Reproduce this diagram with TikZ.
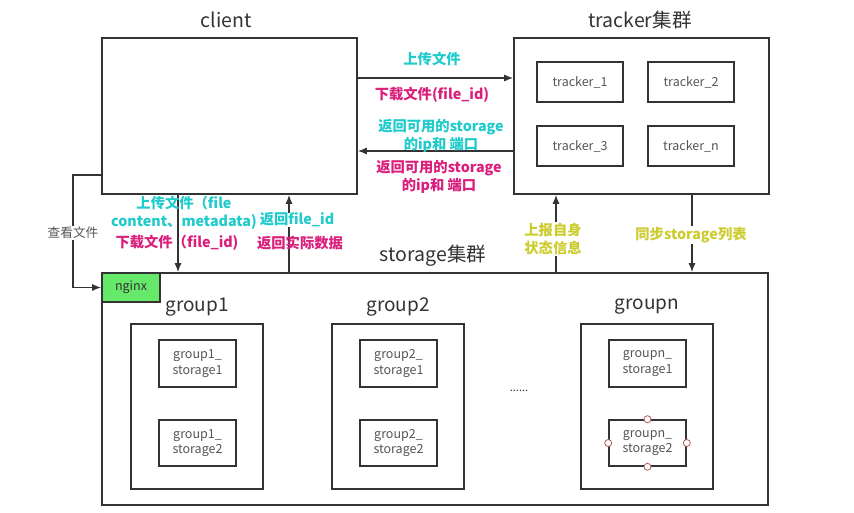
\documentclass[tikz,border=0pt]{standalone}
\usepackage{fontspec}
\setmainfont{Noto Sans CJK SC}
\usetikzlibrary{arrows.meta}
\definecolor{bord}{HTML}{333333}
\definecolor{txtg}{HTML}{555555}
\definecolor{cy}{HTML}{1FCBCB}
\definecolor{mg}{HTML}{DB1F7C}
\definecolor{yl}{HTML}{CCCC2E}
\definecolor{ngreen}{HTML}{66E86B}
\definecolor{ptc}{HTML}{B05A5A}
\begin{document}
\begin{tikzpicture}[x=1pt,y=-1pt,
  box/.style={draw=bord,line width=1.6pt,fill=white,inner sep=0pt},
  inbox/.style={draw=bord,line width=1.6pt,fill=white,inner sep=0pt,text=txtg,align=center,
     font=\fontsize{12.5}{15.5}\selectfont},
  ttl/.style={text=bord,inner sep=0pt,font=\fontsize{19.5}{22}\selectfont},
  gttl/.style={text=bord,inner sep=0pt,font=\fontsize{19}{22}\selectfont},
  arr/.style={draw=bord,line width=1.3pt,-{Latex[length=9pt,width=7pt]}},
  lab/.style={inner sep=1pt,align=center,font=\bfseries\fontsize{14.3}{18}\selectfont},
  wlab/.style={lab,fill=white},
  pt/.style={circle,draw=ptc,fill=white,line width=0.8pt,minimum size=7pt,inner sep=0pt}]
\useasboundingbox (0,0) rectangle (854,513);
\fill[white] (0,0) rectangle (854,513);

% client
\node[box,minimum width=255pt,minimum height=156pt] (client) at (229.5,116) {};
\node[ttl] (clientt) at (226,20) {client};

% tracker
\node[box,minimum width=255pt,minimum height=156pt] (tracker) at (641.5,116) {};
\node[ttl] (trackert) at (640,20) {tracker集群};
\node[inbox,minimum width=86pt,minimum height=40pt] (t1) at (580,82) {tracker\_1};
\node[inbox,minimum width=86pt,minimum height=40pt] (t2) at (691,82) {tracker\_2};
\node[inbox,minimum width=86pt,minimum height=40pt] (t3) at (580,146) {tracker\_3};
\node[inbox,minimum width=86pt,minimum height=40pt] (tn) at (691,146) {tracker\_n};

% storage
\node[box,minimum width=666pt,minimum height=232pt] (storage) at (435,389) {};
\node[ttl] (storaget) at (433,256) {storage集群};
\node[draw=bord,line width=1.6pt,fill=ngreen,minimum width=58pt,minimum height=29pt,inner sep=0pt,
   text=bord,font=\fontsize{12.5}{14}\selectfont] (nginx) at (131,287.5) {nginx};

% groups
\node[box,minimum width=132pt,minimum height=165pt] (g1) at (197,406.5) {};
\node[gttl] (g1t) at (197,307) {group1};
\node[inbox,minimum width=77pt,minimum height=47pt] (g1s1) at (197.5,363.5) {group1\_\\storage1};
\node[inbox,minimum width=77pt,minimum height=46pt] (g1s2) at (197.5,443) {group1\_\\storage2};

\node[box,minimum width=132pt,minimum height=165pt] (g2) at (398,406.5) {};
\node[gttl] (g2t) at (398,307) {group2};
\node[inbox,minimum width=77pt,minimum height=47pt] (g2s1) at (398.5,363.5) {group2\_\\storage1};
\node[inbox,minimum width=77pt,minimum height=46pt] (g2s2) at (398.5,443) {group2\_\\storage2};

\node[text=bord,font=\fontsize{11}{12}\selectfont] (dots) at (519,391) {......};

\node[box,minimum width=132pt,minimum height=165pt] (gn) at (647,406.5) {};
\node[gttl] (gnt) at (647,307) {groupn};
\node[inbox,minimum width=77pt,minimum height=47pt] (gns1) at (647.5,363.5) {groupn\_\\storage1};
\node[inbox,minimum width=77pt,minimum height=46pt] (gns2) at (647.5,443) {groupn\_\\storage2};
\node[pt] (p1) at (gns2.north) {};
\node[pt] (p2) at (gns2.south) {};
\node[pt] (p3) at (gns2.west) {};
\node[pt] (p4) at (gns2.east) {};

% client <-> tracker
\draw[arr] (client.east |- 0,78) -- (tracker.west |- 0,78);
\node[lab,text=cy] (l1) at (432,59) {上传文件};
\node[lab,text=mg] (l2) at (432,95) {下载文件(file\_id)};
\draw[arr] (tracker.west |- 0,151) -- (client.east |- 0,151);
\node[lab,text=cy] (l3) at (441,136) {返回可用的storage\\的ip和 端口};
\node[lab,text=mg] (l4) at (439,177) {返回可用的storage\\的ip和 端口};

% client <-> storage
\draw[arr] (client.south -| 178,0) -- (storage.north -| 178,0);
\draw[arr] (storage.north -| 289,0) -- (client.south -| 289,0);
\node[lab,text=cy] (l5) at (184,213) {上传文件（file\\content、metadata)};
\node[lab,text=mg] (l6) at (177,243) {下载文件（file\_id)};
\node[wlab,text=cy,inner sep=0pt] (l7) at (297,220) {返回file\_id};
\node[lab,text=mg] (l8) at (300,243) {返回实际数据};

% view file
\coordinate (c1) at (73,175);
\draw[arr] (client.west |- c1) -- (c1) -- (c1 |- nginx.west) -- (nginx.west);
\node[fill=white,text=txtg,inner sep=1pt,font=\fontsize{12.7}{15}\selectfont] (l9) at (73,233) {查看文件};

% storage <-> tracker
\draw[arr] (storage.north -| 556,0) -- (tracker.south -| 556,0);
\draw[arr] (tracker.south -| 692,0) -- (storage.north -| 692,0);
\node[wlab,text=yl] (l10) at (553,239) {上报自身\\状态信息};
\node[wlab,text=yl] (l11) at (691,235) {同步storage列表};
\end{tikzpicture}
\end{document}
